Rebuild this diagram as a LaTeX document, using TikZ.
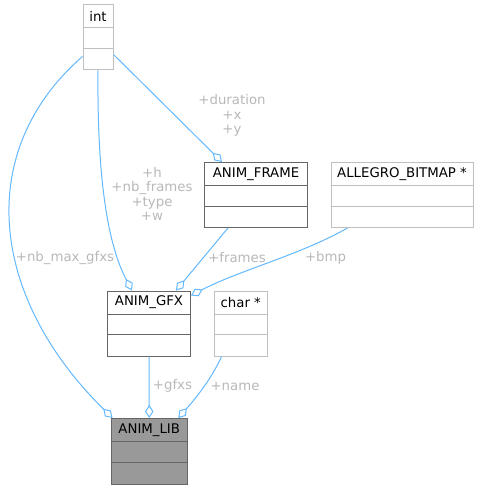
\documentclass[tikz,border=0pt]{standalone}
\usepackage{fontspec}
\setmainfont{DejaVu Sans}
\usepackage{tikz}
\usetikzlibrary{arrows.meta}

\definecolor{edgeblue}{HTML}{63B8FF}
\definecolor{darkline}{HTML}{666666}
\definecolor{lightline}{HTML}{BFBFBF}
\definecolor{labelgray}{HTML}{B8B8B8}
\definecolor{libfill}{HTML}{999999}

\begin{document}
\begin{tikzpicture}[x=1pt, y=-1pt,
    every node/.style={font=\fontsize{13.3}{14.6}\selectfont},
    darkcls/.style={draw=darkline, line width=1pt, inner sep=0pt, minimum height=65pt},
    lightcls/.style={draw=lightline, line width=1pt, inner sep=0pt, minimum height=65pt},
    title/.style={anchor=north, inner sep=0pt, minimum height=23.5pt},
    assoc/.style={draw=edgeblue, line width=1pt, -{Diamond[open, length=13pt, width=8.5pt]}},
    lbl/.style={text=labelgray, align=center, inner sep=0pt}]
  \useasboundingbox (0,0) rectangle (479,489);

  % Classes
  \node[lightcls, minimum width=30pt] (int) at (98,37.5) {};
  \node[title] (int-t) at (int.north) {int};
  \draw[lightline, line width=1pt] ([yshift=-23.5pt]int.north west) -- ([yshift=-23.5pt]int.north east);
  \draw[lightline, line width=1pt] ([yshift=-44pt]int.north west) -- ([yshift=-44pt]int.north east);

  \node[darkcls, minimum width=103pt] (frame) at (256,195) {};
  \node[title] (frame-t) at (frame.north) {ANIM\_FRAME};
  \draw[darkline, line width=1pt] ([yshift=-23.5pt]frame.north west) -- ([yshift=-23.5pt]frame.north east);
  \draw[darkline, line width=1pt] ([yshift=-44pt]frame.north west) -- ([yshift=-44pt]frame.north east);

  \node[lightcls, minimum width=142pt] (bitmap) at (402,195) {};
  \node[title] (bitmap-t) at (bitmap.north) {ALLEGRO\_BITMAP *};
  \draw[lightline, line width=1pt] ([yshift=-23.5pt]bitmap.north west) -- ([yshift=-23.5pt]bitmap.north east);
  \draw[lightline, line width=1pt] ([yshift=-44pt]bitmap.north west) -- ([yshift=-44pt]bitmap.north east);

  \node[darkcls, minimum width=83pt] (gfx) at (149,323.5) {};
  \node[title] (gfx-t) at (gfx.north) {ANIM\_GFX};
  \draw[darkline, line width=1pt] ([yshift=-23.5pt]gfx.north west) -- ([yshift=-23.5pt]gfx.north east);
  \draw[darkline, line width=1pt] ([yshift=-44pt]gfx.north west) -- ([yshift=-44pt]gfx.north east);

  \node[lightcls, minimum width=53.5pt] (chr) at (240.75,323.5) {};
  \node[title] (chr-t) at (chr.north) {char *};
  \draw[lightline, line width=1pt] ([yshift=-23.5pt]chr.north west) -- ([yshift=-23.5pt]chr.north east);
  \draw[lightline, line width=1pt] ([yshift=-44pt]chr.north west) -- ([yshift=-44pt]chr.north east);

  \node[darkcls, fill=libfill, minimum width=76.5pt, minimum height=65.5pt] (lib) at (149.25,451.25) {};
  \node[title] (lib-t) at (lib.north) {ANIM\_LIB};
  \draw[darkline, line width=1pt] ([yshift=-23.5pt]lib.north west) -- ([yshift=-23.5pt]lib.north east);
  \draw[darkline, line width=1pt] ([yshift=-44pt]lib.north west) -- ([yshift=-44pt]lib.north east);

  % Associations
  \draw[assoc] ([yshift=-52pt]int.north west) .. controls (-25,150) and (-12,295) .. ([xshift=2pt]lib.north west);
  \draw[assoc] (int.south) .. controls (97,180) and (108,245) .. ([xshift=-17pt]gfx.north);
  \draw[assoc] ([yshift=-50pt]int.north east) -- ([xshift=-34pt]frame.north);
  \draw[assoc] ([xshift=-28pt]frame.south) -- ([xshift=27pt]gfx.north);
  \draw[assoc] ([xshift=17pt]bitmap.south west) .. controls (300,255) and (240,270) .. ([yshift=-5pt]gfx.north east);
  \draw[assoc] (gfx.south) -- (lib.north);
  \draw[assoc] ([xshift=8pt]chr.south west) .. controls (212,378) and (196,398) .. ([xshift=29pt]lib.north);

  % Labels
  \node[lbl] (l-nbmax) at (65,258) {+nb\_max\_gfxs};
  \node[lbl] (l-gfxint) at (152,194) {+h\\+nb\_frames\\+type\\+w};
  \node[lbl] (l-frameint) at (232,115.5) {+duration\\+x\\+y};
  \node[lbl] (l-frames) at (237,258) {+frames};
  \node[lbl] (l-bmp) at (325.5,258) {+bmp};
  \node[lbl] (l-gfxs) at (172.5,386) {+gfxs};
  \node[lbl] (l-name) at (235,386) {+name};
\end{tikzpicture}
\end{document}
